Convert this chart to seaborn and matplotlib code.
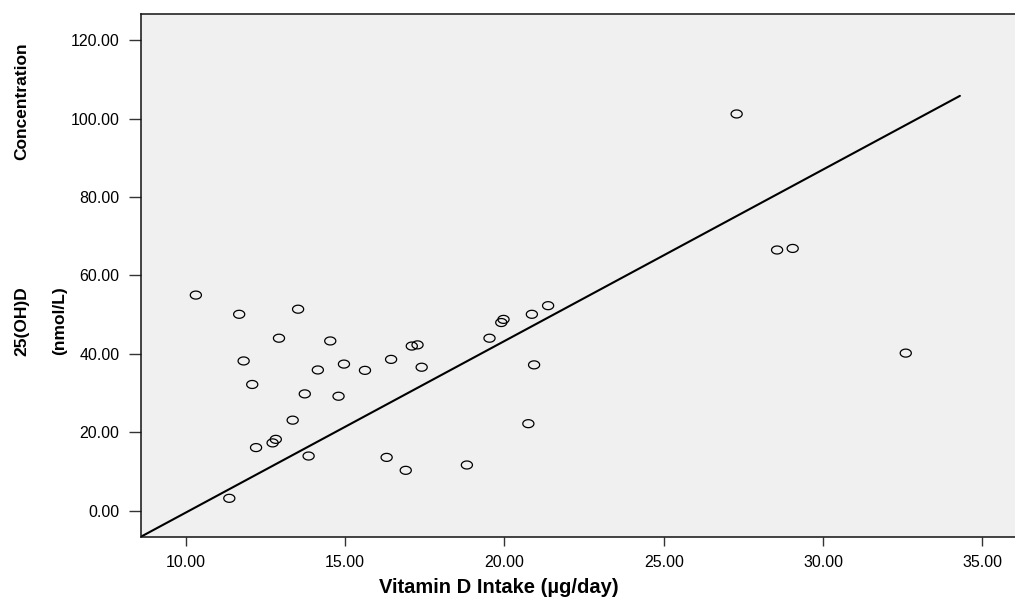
import numpy as np
import pandas as pd
import seaborn as sns
import matplotlib.pyplot as plt
from matplotlib.path import Path
from matplotlib.ticker import FormatStrFormatter

# vitamin D intake (ug/day) and serum 25(OH)D (nmol/L)
intake = [10.31, 11.67, 13.52, 12.92, 14.53, 11.81, 12.08, 14.14, 14.96, 15.62,
          16.44, 17.09, 17.27, 17.40, 13.73, 14.79, 13.35, 12.82, 12.72, 12.20,
          13.85, 16.30, 16.90, 18.82, 11.36, 19.53, 19.90, 19.97, 20.86, 20.93,
          20.75, 21.37, 32.60, 27.29, 28.56, 29.05]
conc = [55.0, 50.1, 51.4, 44.0, 43.3, 38.2, 32.2, 35.9, 37.4, 35.8,
        38.6, 42.0, 42.3, 36.6, 29.8, 29.2, 23.1, 18.2, 17.3, 16.1,
        13.95, 13.6, 10.3, 11.66, 3.16, 44.0, 48.0, 48.8, 50.1, 37.2,
        22.2, 52.3, 40.2, 101.2, 66.5, 66.9]

# fit line as shown in the chart
fit_slope = 4.373
fit_intercept = -44.18
fit_x = [8.59, 34.30]

x_ticks = [10, 15, 20, 25, 30, 35]
y_ticks = [0, 20, 40, 60, 80, 100, 120]

df = pd.DataFrame({"intake": intake, "conc": conc})
fit = pd.DataFrame({"x": fit_x})
fit["y"] = fit_intercept + fit_slope * fit["x"]

sns.set_theme(style="ticks")
plt.rcParams["font.family"] = ["Liberation Sans", "DejaVu Sans"]
plt.rcParams["text.color"] = "black"

fig = plt.figure(figsize=(10.15, 5.99), dpi=100)
ax = fig.add_axes([0.1389, 0.104, 0.8611, 0.872])
ax.set_facecolor("#f0f0f0")

# slightly flattened open circle, like the SPSS marker
t = np.linspace(0, 2 * np.pi, 60)
ellipse = Path(np.column_stack([np.cos(t), 0.72 * np.sin(t)]), closed=True)

sns.lineplot(data=fit, x="x", y="y", color="black", linewidth=1.5, ax=ax)
sns.scatterplot(data=df, x="intake", y="conc", marker=ellipse, s=64,
                facecolor="none", edgecolor="black", linewidth=0.9, ax=ax)

ax.set_xlim(8.587, 36.03)
ax.set_ylim(-6.63, 126.6)
ax.set_xticks(x_ticks)
ax.set_yticks(y_ticks)
ax.xaxis.set_major_formatter(FormatStrFormatter("%.2f"))
ax.yaxis.set_major_formatter(FormatStrFormatter("%.2f"))
ax.tick_params(axis="y", length=8.6, width=1, color="#333333", pad=7,
               labelsize=11.5, labelcolor="black")
ax.tick_params(axis="x", length=6.5, width=1, color="#333333", pad=7,
               labelsize=11.5, labelcolor="black")

for side in ["left", "top", "bottom"]:
    ax.spines[side].set_color("#111111")
    ax.spines[side].set_linewidth(1.1)
ax.spines["right"].set_visible(False)

ax.set_xlabel("")
ax.set_ylabel("")
fig.text(0.4911, 0.0184, "Vitamin D Intake (µg/day)", ha="center", va="center",
         fontsize=14.5, fontweight="bold")
fig.text(0.0217, 0.8314, "Concentration", rotation=90, ha="center", va="center",
         fontsize=12.5, fontweight="bold")
fig.text(0.0217, 0.4641, "25(OH)D", rotation=90, ha="center", va="center",
         fontsize=12.5, fontweight="bold")
fig.text(0.0591, 0.4641, "(nmol/L)", rotation=90, ha="center", va="center",
         fontsize=12.5, fontweight="bold")

fig.savefig("out.png", dpi=100)
